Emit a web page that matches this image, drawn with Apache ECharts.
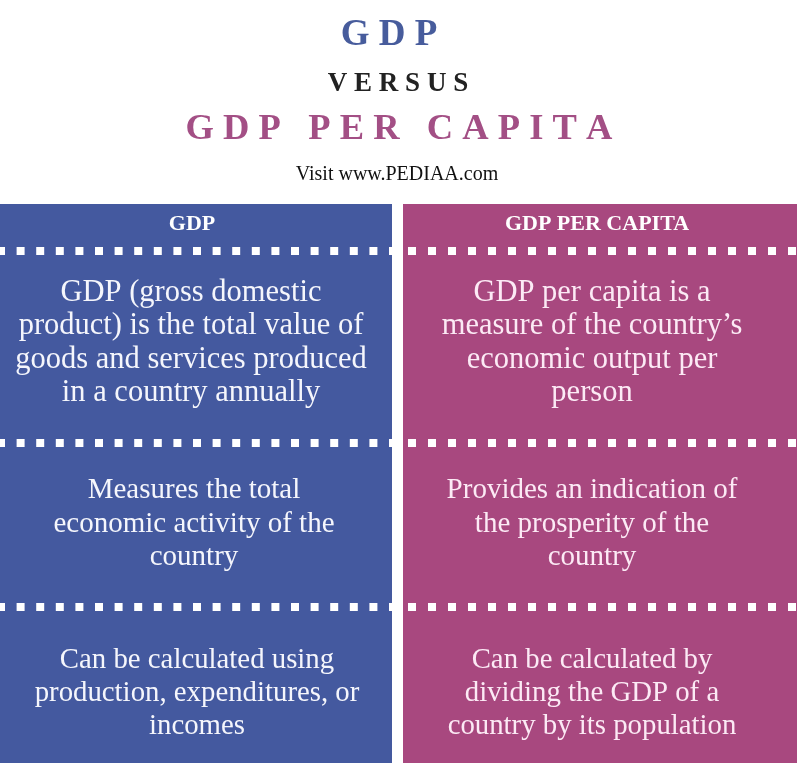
<!DOCTYPE html>
<html>
<head>
<meta charset="utf-8">
<script src="https://cdn.jsdelivr.net/npm/echarts@6/dist/echarts.min.js"></script>
<style>
html,body{margin:0;padding:0;background:#ffffff;}
#chart{width:797px;height:763px;}
</style>
</head>
<body>
<div id="chart"></div>
<script>
// ---- content ----
const titleTop = 'GDP';
const titleMiddle = 'VERSUS';
const titleBottom = 'GDP PER CAPITA';
const sourceText = 'Visit www.PEDIAA.com';
const columnHeaders = ['GDP', 'GDP PER CAPITA'];
const gdpRows = [
  'GDP (gross domestic\nproduct) is the total value of\ngoods and services produced\nin a country annually',
  'Measures the total\neconomic activity of the\ncountry',
  'Can be calculated using\nproduction, expenditures, or\nincomes'
];
const perCapitaRows = [
  'GDP per capita is a\nmeasure of the country\u2019s\neconomic output per\nperson',
  'Provides an indication of\nthe prosperity of the\ncountry',
  'Can be calculated by\ndividing the GDP of a\ncountry by its population'
];

// ---- styling / layout ----
const W = 797, H = 763;
const BLUE = '#44599f', MAGENTA = '#a8487f';
const TITLE_BLUE = '#475c9c', TITLE_MAGENTA = '#a34f85';
const SERIF = '"Liberation Serif", "DejaVu Serif", serif';
const panels = [
  {x0: 0, x1: 392, fill: BLUE, textX: [191, 194, 197], headX: 192, textFill: '#f5f6fc', dashStart: -3, dashStep: 19.6},
  {x0: 403, x1: 797, fill: MAGENTA, textX: [592, 592, 592], headX: 597, textFill: '#fceaf5', dashStart: 408, dashStep: 20}
];
const panelTop = 204;
const dashRowsY = [247, 439, 603];
const dashSize = 8;
const rowCentersY = [343, 524, 693.5];
const rowFontSize = [30.5, 29, 28.8];

function spaced(s, wordGap) {
  return s.split(' ').map(w => w.split('').join(' ')).join(wordGap);
}

function textEl(text, x, y, size, color, weight, lineHeight) {
  return {
    type: 'text',
    silent: true,
    style: {
      text: text, x: x, y: y,
      fill: color,
      fontSize: size, fontFamily: SERIF, fontWeight: weight || 'normal',
      align: 'center', verticalAlign: 'middle',
      textAlign: 'center', textVerticalAlign: 'middle',
      lineHeight: lineHeight || Math.round(size * 1.15)
    }
  };
}

const elements = [];
elements.push({type: 'rect', shape: {x: 0, y: 0, width: W, height: H}, style: {fill: '#ffffff'}, silent: true});

// titles
elements.push(textEl(spaced(titleTop, '   '), 389, 35, 37, TITLE_BLUE, 'bold'));
elements.push(textEl(spaced(titleMiddle, '   '), 398, 84, 27, '#222222', 'bold'));
elements.push(textEl(spaced(titleBottom, '   '), 399, 130, 36.5, TITLE_MAGENTA, 'bold'));
elements.push(textEl(sourceText, 397, 174.5, 20, '#111111', 'normal'));

const columns = [gdpRows, perCapitaRows];
panels.forEach((p, ci) => {
  elements.push({type: 'rect', silent: true, shape: {x: p.x0, y: panelTop, width: p.x1 - p.x0, height: H - panelTop}, style: {fill: p.fill}});
  // header
  elements.push(textEl(columnHeaders[ci], p.headX, 224.3, 22, '#ffffff', 'bold'));
  // dotted separators
  dashRowsY.forEach(dy => {
    for (let x = p.dashStart; x < p.x1; x += p.dashStep) {
      const left = Math.max(x, p.x0);
      const right = Math.min(x + dashSize, p.x1);
      if (right - left <= 0.5) continue;
      elements.push({type: 'rect', silent: true, shape: {x: left, y: dy, width: right - left, height: dashSize}, style: {fill: '#ffffff'}});
    }
  });
  // row texts
  columns[ci].forEach((t, ri) => {
    elements.push(textEl(t, p.textX[ri], rowCentersY[ri], rowFontSize[ri], p.textFill, 'normal', 33.3));
  });
});

const chart = echarts.init(document.getElementById('chart'), null, {renderer: 'canvas'});
chart.setOption({
  backgroundColor: '#ffffff',
  animation: false,
  graphic: {elements: elements}
});
</script>
</body>
</html>
